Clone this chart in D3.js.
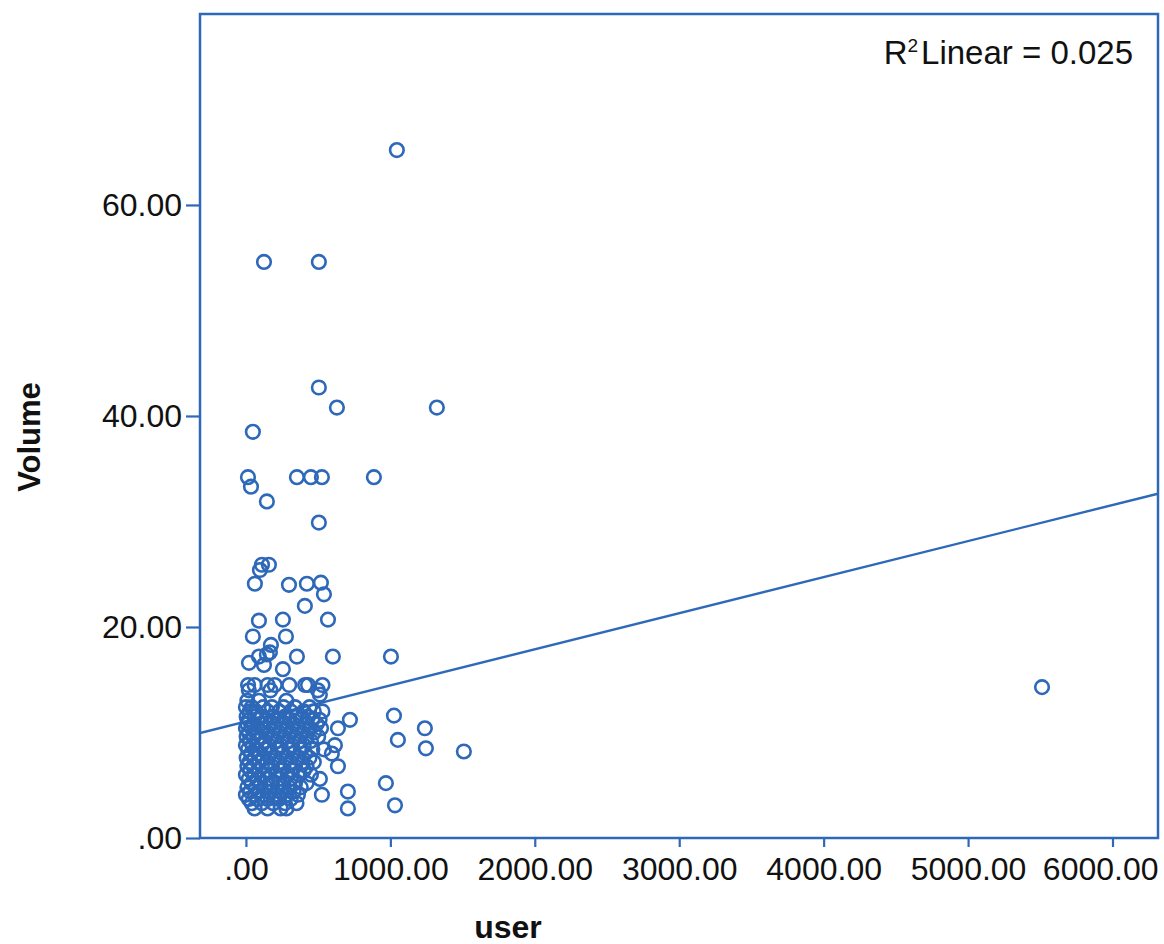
<!DOCTYPE html>
<html>
<head>
<meta charset="utf-8">
<script src="https://cdn.jsdelivr.net/npm/d3@7"></script>
<style>
  body { margin: 0; background: #fff; }
  text { font-family: "Liberation Sans", Arial, sans-serif; fill: #111; }
</style>
</head>
<body>
<script>
// scattered points (user, volume)
var outlierUser   = [1045, 125, 505, 505, 630, 1322, 48, 14, 353, 450, 526, 886, 35, 145, 505,
                     111, 159, 97, 62, 298, 422, 519, 540, 408, 568, 90, 256, 48, 277, 173, 166, 145, 90, 21, 125, 353, 602, 1004, 256,
                     1025, 1239, 1052, 1246, 1509, 969, 1032, 5512];
var outlierVolume = [65.2, 54.6, 54.6, 42.7, 40.8, 40.8, 38.5, 34.2, 34.2, 34.2, 34.2, 34.2, 33.3, 31.9, 29.9,
                     25.9, 25.9, 25.4, 24.1, 24.0, 24.1, 24.2, 23.1, 22.0, 20.7, 20.6, 20.7, 19.1, 19.1, 18.3, 17.6, 17.4, 17.2, 16.6, 16.4, 17.2, 17.2, 17.2, 16.0,
                     11.6, 10.4, 9.3, 8.5, 8.2, 5.2, 3.1, 14.3];

// dense cluster near the origin: one volume per row, users in that row
var rowVolume = [14.5, 14.0, 13.6, 13.0, 12.4, 12.0, 11.5, 11.2, 10.8, 10.4, 10.0, 9.6, 9.2, 8.8, 8.4,
                 8.0, 7.6, 7.2, 6.8, 6.4, 6.0, 5.6, 5.2, 4.8, 4.4, 4.1, 3.7, 3.3, 2.8];
var rowUsers = [
  [15, 60, 150, 200, 300, 410, 430, 530],
  [20, 170, 498],
  [512],
  [10, 90, 280],
  [0, 40, 120, 180, 260, 340, 440],
  [25, 70, 150, 230, 310, 400, 470, 530],
  [5, 60, 110, 190, 270, 350, 430],
  [720, 20, 80, 140, 220, 300, 380, 460, 510],
  [10, 50, 100, 170, 250, 330, 410, 490],
  [0, 40, 120, 200, 280, 360, 440, 520, 637],
  [20, 70, 150, 230, 310, 390, 470],
  [5, 55, 100, 180, 260, 340, 420, 500],
  [30, 80, 130, 210, 290, 370, 450],
  [0, 45, 110, 160, 240, 320, 400, 616],
  [15, 65, 140, 220, 300, 380, 460, 540],
  [35, 90, 170, 250, 330, 410, 595],
  [5, 60, 120, 200, 280, 360, 440],
  [25, 80, 150, 230, 310, 390, 470],
  [10, 50, 110, 180, 260, 340, 420, 637],
  [30, 90, 160, 240, 320, 400],
  [0, 60, 130, 210, 290, 370, 450],
  [20, 80, 150, 230, 310, 512],
  [40, 100, 180, 260, 340, 420],
  [10, 70, 140, 220, 300, 380],
  [30, 90, 170, 250, 330, 706],
  [0, 60, 120, 200, 280, 360, 526],
  [20, 80, 150, 230, 310],
  [40, 110, 190, 270, 350],
  [60, 150, 240, 280, 706]
];

var xTicks = [0, 1000, 2000, 3000, 4000, 5000, 6000];
var yTicks = [0, 20, 40, 60];

// fit line
var fitIntercept = 11.04, fitSlope = 0.00342;
var r2Label = "Linear = 0.025";

var blue = "#2d68b9";

var dataset = [];
outlierUser.forEach(function(u, i) { dataset.push({x: u, y: outlierVolume[i]}); });
rowUsers.forEach(function(users, i) {
    users.forEach(function(u) { dataset.push({x: u, y: rowVolume[i]}); });
});

var plot = {left: 200, right: 1158, top: 14, bottom: 838};

var xScale = d3.scaleLinear()
    .domain([-318, 6315])
    .range([plot.left, plot.right]);

var yScale = d3.scaleLinear()
    .domain([0, 78.1])
    .range([plot.bottom, plot.top]);

var fmt = function(v) { return d3.format(".2f")(v).replace(/^0\./, "."); };

var svg = d3.select("body").append("svg")
    .attr("width", 1164)
    .attr("height", 944);

svg.append("clipPath")
    .attr("id", "clip")
    .append("rect")
    .attr("x", plot.left).attr("y", plot.top)
    .attr("width", plot.right - plot.left)
    .attr("height", plot.bottom - plot.top);

// axes
var xAxis = svg.append("g")
    .attr("transform", "translate(0," + plot.bottom + ")")
    .call(d3.axisBottom(xScale).tickValues(xTicks).tickFormat(fmt).tickSize(9).tickPadding(10));

var yAxis = svg.append("g")
    .attr("transform", "translate(" + plot.left + ",0)")
    .call(d3.axisLeft(yScale).tickValues(yTicks).tickFormat(fmt).tickSize(14).tickPadding(4));

[xAxis, yAxis].forEach(function(g) {
    g.select(".domain").remove();
    g.selectAll("line").attr("stroke", blue).attr("stroke-width", 2.2);
    g.selectAll("text").style("font-size", "32px").attr("fill", "#111");
});

// last x label would run off the page: pull it in
xAxis.selectAll(".tick text")
    .filter(function(d) { return d === 6000; })
    .attr("text-anchor", "end")
    .attr("x", 1158 - xScale(6000));

// frame
svg.append("rect")
    .attr("x", plot.left).attr("y", plot.top)
    .attr("width", plot.right - plot.left)
    .attr("height", plot.bottom - plot.top)
    .attr("fill", "none")
    .attr("stroke", blue)
    .attr("stroke-width", 2.5);

// fit line
var line = d3.line()
    .x(function(d) { return xScale(d); })
    .y(function(d) { return yScale(fitIntercept + fitSlope * d); });

svg.append("path")
    .datum(xScale.domain())
    .attr("clip-path", "url(#clip)")
    .attr("fill", "none")
    .attr("stroke", blue)
    .attr("stroke-width", 2.4)
    .attr("d", line);

// points
svg.selectAll(".dot")
    .data(dataset)
    .enter().append("circle")
    .attr("class", "dot")
    .attr("cx", function(d) { return xScale(d.x); })
    .attr("cy", function(d) { return yScale(d.y); })
    .attr("r", 6.8)
    .attr("fill", "none")
    .attr("stroke", blue)
    .attr("stroke-width", 2.6);

// R² label
var r2 = svg.append("text")
    .attr("x", 1133)
    .attr("y", 64)
    .attr("text-anchor", "end")
    .style("font-size", "33px");
r2.append("tspan").text("R");
r2.append("tspan").attr("dy", -12).style("font-size", "19px").text("2");
r2.append("tspan").attr("dy", 12).attr("dx", 3).text(r2Label);

// axis titles
svg.append("text")
    .attr("x", 508)
    .attr("y", 938)
    .attr("text-anchor", "middle")
    .style("font-size", "32px")
    .style("font-weight", "bold")
    .text("user");

svg.append("text")
    .attr("transform", "translate(40,437) rotate(-90)")
    .attr("text-anchor", "middle")
    .style("font-size", "31px")
    .style("font-weight", "bold")
    .text("Volume");
</script>
</body>
</html>
